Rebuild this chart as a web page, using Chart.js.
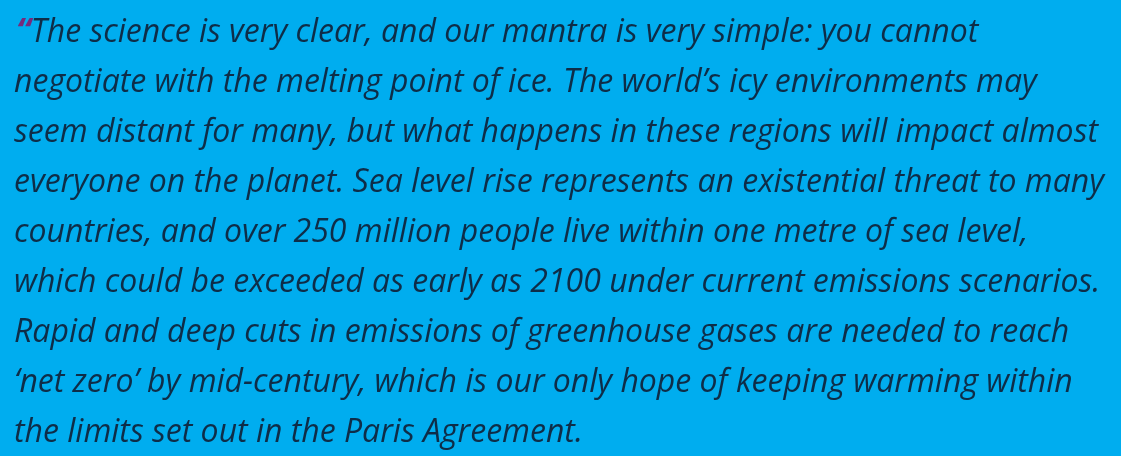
<!DOCTYPE html>
<html>
<head>
<meta charset="utf-8">
<script src="https://cdn.jsdelivr.net/npm/chart.js@4/dist/chart.umd.min.js"></script>
<style>
  html, body { margin: 0; padding: 0; background: #00adef; }
  #wrap { width: 1121px; height: 456px; position: relative; }
</style>
</head>
<body>
<div id="wrap"><canvas id="quoteChart"></canvas></div>
<script>
// quote text, one entry per printed line
const quoteMark = '\u201C';
const quoteLines = [
  'The science is very clear, and our mantra is very simple: you cannot',
  'negotiate with the melting point of ice. The world\u2019s icy environments may',
  'seem distant for many, but what happens in these regions will impact almost',
  'everyone on the planet. Sea level rise represents an existential threat to many',
  'countries, and over 250 million people live within one metre of sea level,',
  'which could be exceeded as early as 2100 under current emissions scenarios.',
  'Rapid and deep cuts in emissions of greenhouse gases are needed to reach',
  '\u2018net zero\u2019 by mid-century, which is our only hope of keeping warming within',
  'the limits set out in the Paris Agreement.'
];

const quoteText = {
  id: 'quoteText',
  afterDraw(chart) {
    const ctx = chart.ctx;
    ctx.save();
    ctx.textBaseline = 'alphabetic';
    const left = 14, top = 42, step = 50;
    // purple opening mark
    ctx.font = 'italic 700 34px "Open Sans"';
    ctx.fillStyle = '#762a7c';
    ctx.fillText(quoteMark, left + 2, top);
    const markW = ctx.measureText(quoteMark).width;
    ctx.font = 'italic 400 32px "Open Sans"';
    ctx.fillStyle = '#0e2d48';
    quoteLines.forEach((line, i) => {
      const x = i === 0 ? left + markW + 2 : left;
      ctx.fillText(line, x, top + i * step);
    });
    ctx.restore();
  }
};

new Chart(document.getElementById('quoteChart'), {
  type: 'bar',
  data: { labels: [], datasets: [] },
  options: {
    responsive: true,
    maintainAspectRatio: false,
    animation: false,
    events: [],
    plugins: { legend: { display: false }, tooltip: { enabled: false } },
    scales: { x: { display: false }, y: { display: false } }
  },
  plugins: [quoteText]
});
</script>
</body>
</html>
